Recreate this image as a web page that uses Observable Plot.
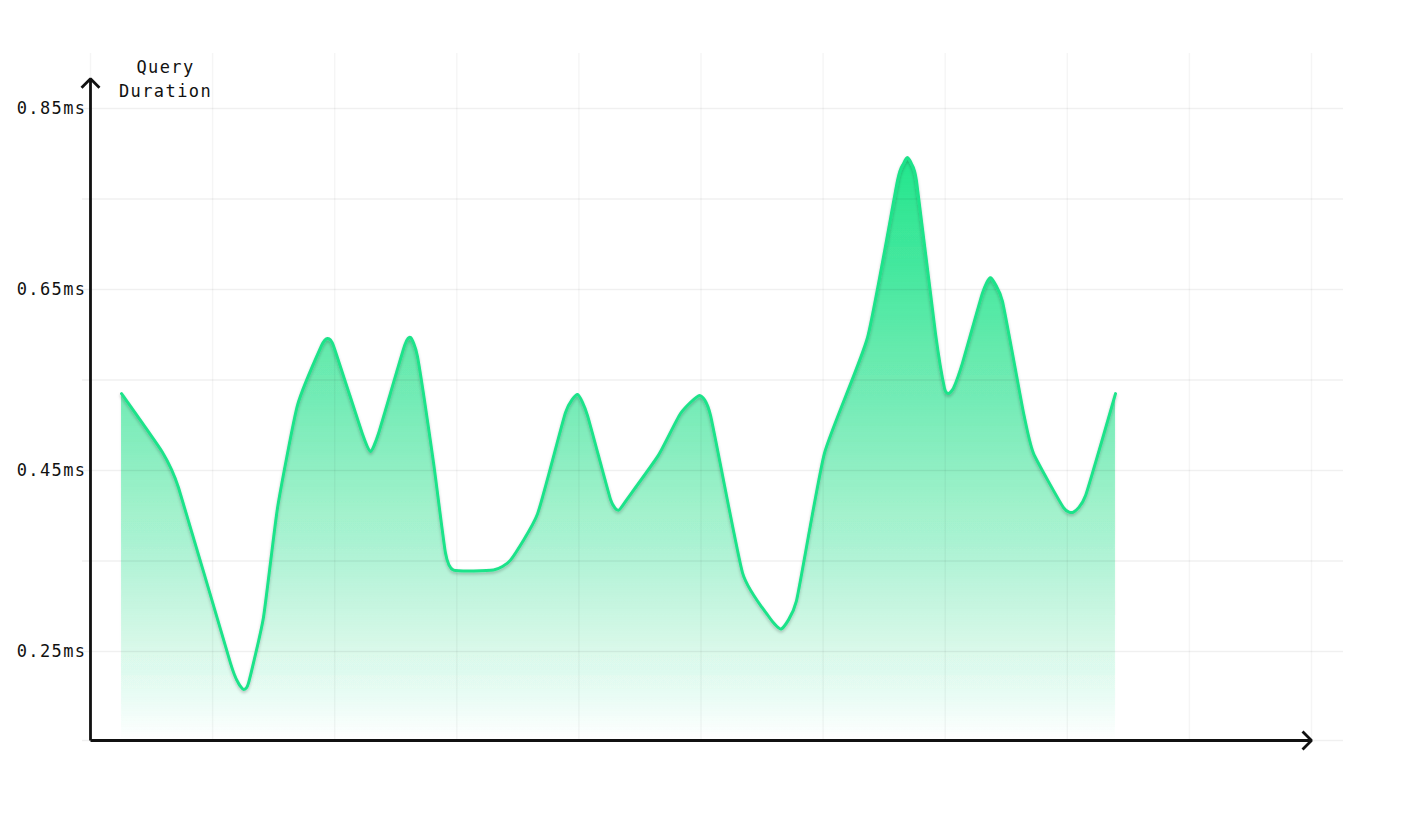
<!DOCTYPE html>
<html><head><meta charset="utf-8">
<script src="https://cdn.jsdelivr.net/npm/d3@7"></script>
<script src="https://cdn.jsdelivr.net/npm/@observablehq/plot@0.6"></script>
<style>
html,body{margin:0;padding:0;background:#fff;}
</style></head><body><div id="chart"></div>
<script>
// Sample positions along the (unlabelled) time axis, 0–100
const sampleTimes = [2.54, 5.90, 7.21, 11.47, 12.12, 12.53, 12.94, 14.17, 15.32, 16.95,
                     18.92, 19.41, 19.90, 22.28, 22.93, 23.59, 25.72, 26.21, 26.78, 28.09,
                     29.07, 29.73, 33.01, 34.40, 36.61, 38.90, 39.89, 40.70, 42.59, 43.24,
                     43.98, 46.52, 48.32, 49.88, 50.78, 53.40, 55.53, 56.59, 57.82, 60.11,
                     63.64, 66.09, 66.58, 66.91, 67.24, 67.65, 69.21, 69.94, 70.27, 70.68,
                     71.42, 73.05, 73.71, 74.69, 76.41, 77.23, 79.69, 80.51, 81.49, 83.95];
// Query duration (ms) at each sample
const durations = [0.535, 0.470, 0.431, 0.237, 0.215, 0.208, 0.215, 0.288, 0.409, 0.522,
                   0.588, 0.596, 0.588, 0.490, 0.471, 0.491, 0.588, 0.597, 0.576, 0.459,
                   0.359, 0.340, 0.340, 0.351, 0.402, 0.514, 0.534, 0.511, 0.418, 0.406,
                   0.419, 0.467, 0.513, 0.533, 0.511, 0.337, 0.289, 0.275, 0.306, 0.469,
                   0.597, 0.770, 0.789, 0.796, 0.789, 0.770, 0.601, 0.541, 0.535, 0.541,
                   0.569, 0.646, 0.663, 0.637, 0.514, 0.469, 0.409, 0.404, 0.422, 0.535];
const yTickValues = [0.25, 0.45, 0.65, 0.85];
const yGridValues = [0.25, 0.35, 0.45, 0.55, 0.65, 0.75, 0.85];
const xGridValues = [0, 10, 20, 30, 40, 50, 60, 70, 80, 90, 100];
const yDomain = [0.1517, 0.9108];
const xDomain = [0, 100];
const yAxisTop = 0.883;
const axisLabel = "Query\nDuration";

const data = durations.map((v, k) => ({t: sampleTimes[k], v}));
const axes = [
  {x1: xDomain[0], y1: yDomain[0], x2: xDomain[0], y2: yAxisTop},
  {x1: xDomain[0], y1: yDomain[0], x2: xDomain[1], y2: yDomain[0]}
];
const curveOpts = {curve: "cardinal", tension: 0.5};

const chart = Plot.plot({
  width: 1427,
  height: 831,
  marginLeft: 90,
  marginRight: 116,
  marginTop: 53,
  marginBottom: 91,
  style: {fontFamily: "'DejaVu Sans Mono', monospace", fontSize: "17px", letterSpacing: "1.4px", color: "#111", background: "#fff", overflow: "visible"},
  x: {domain: xDomain, axis: null},
  y: {domain: yDomain, ticks: yTickValues, tickFormat: d => d.toFixed(2) + "ms", tickSize: 0, tickPadding: 4, label: null},
  marks: [
    Plot.areaY(data, {x: "t", y1: () => yDomain[0], y2: "v", ...curveOpts, fill: "url(#durGrad)"}),
    Plot.ruleY([yDomain[0], ...yGridValues], {stroke: "#000", strokeOpacity: 0.06, strokeWidth: 1.5, insetLeft: -8, insetRight: -32}),
    Plot.ruleX(xGridValues, {stroke: "#000", strokeOpacity: 0.04, strokeWidth: 1.5}),
    Plot.lineY(data, {x: "t", y: "v", ...curveOpts, stroke: "#1ee38a", strokeWidth: 3}),
    Plot.arrow(axes, {x1: "x1", y1: "y1", x2: "x2", y2: "y2", stroke: "#111", strokeWidth: 2.8, headAngle: 90, headLength: 6.8}),
    Plot.text([axisLabel], {frameAnchor: "top-left", dx: 75, dy: 24, textAnchor: "middle", lineAnchor: "middle", lineHeight: 1.41, fill: "#111"})
  ]
});

const ns = "http://www.w3.org/2000/svg";
const defs = document.createElementNS(ns, "defs");
defs.innerHTML = `
  <linearGradient id="durGrad" x1="0" y1="0" x2="0" y2="1">
    <stop offset="0" stop-color="#22e68d" stop-opacity="1"/>
    <stop offset="1" stop-color="#22e68d" stop-opacity="0"/>
  </linearGradient>
  <filter id="lineShadow" x="-5%" y="-5%" width="110%" height="115%">
    <feDropShadow dx="0" dy="2" stdDeviation="1.5" flood-color="#000" flood-opacity="0.22"/>
  </filter>
  <filter id="areaShadow" x="-5%" y="-5%" width="110%" height="110%">
    <feDropShadow dx="0" dy="0" stdDeviation="1" flood-color="#000" flood-opacity="0.15"/>
  </filter>`;
chart.insertBefore(defs, chart.firstChild);
d3.select(chart).selectAll('g[aria-label="line"] path').attr("filter", "url(#lineShadow)");
d3.select(chart).selectAll('g[aria-label="area"] path').attr("filter", "url(#areaShadow)");
d3.select(chart).selectAll('g[aria-label="arrow"] path').attr("stroke-linecap", "butt").attr("stroke-linejoin", "miter");
document.getElementById("chart").appendChild(chart);
</script>
</body></html>
